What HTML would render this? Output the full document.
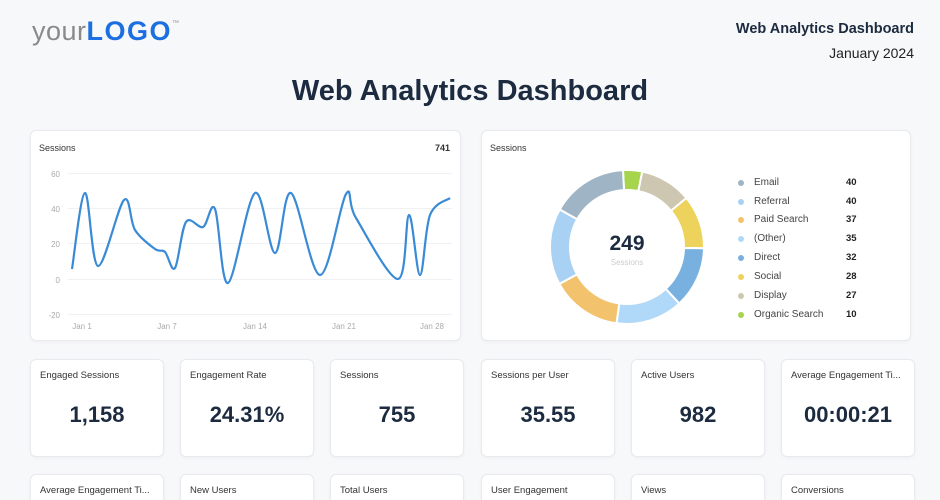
<!DOCTYPE html>
<html style="width:940px;height:500px;overflow:hidden"><head><meta charset="utf-8"><style>
*{margin:0;padding:0;box-sizing:border-box}
body{width:940px;height:500px;background:#f7f8fa;font-family:"Liberation Sans",sans-serif;position:relative;overflow:hidden;color:#1c2b3f}
.abs{position:absolute}
.card{position:absolute;background:#fff;border:1px solid #e8eaee;border-radius:6px;box-shadow:0 1px 3px rgba(0,0,0,0.04)}
.card.b{border-bottom:none;border-radius:6px 6px 0 0}
.lbl{position:absolute;left:9px;top:10px;font-size:9.5px;color:#333;white-space:nowrap}
.val{position:absolute;left:0;right:0;top:42px;text-align:center;font-size:22px;font-weight:bold;color:#1c2b3f}
.leg{position:absolute;left:738px;font-size:10px;color:#444}
.leg i{position:absolute;left:0;top:3px;width:6px;height:6px;border-radius:50%}
.leg span{position:absolute;left:16px;white-space:nowrap}
.leg b{position:absolute;left:108px;font-size:9.5px;color:#222}
</style></head><body>
<div class="abs" style="left:32px;top:16px;font-size:27px;letter-spacing:0.5px"><span style="color:#8a8a8a">your</span><span style="color:#1b6fe0;font-weight:bold;letter-spacing:1.5px">LOGO</span><sup style="font-size:7px;color:#999;vertical-align:top;position:relative;top:4px">™</sup></div>
<div class="abs" style="right:26px;top:21px;font-size:14.5px;font-weight:bold;color:#1c2b3f">Web Analytics Dashboard</div>
<div class="abs" style="right:26px;top:45px;font-size:14px;color:#222">January 2024</div>
<div class="abs" style="left:0;width:940px;top:75px;text-align:center;font-size:29px;font-weight:bold;color:#1c2b3f">Web Analytics Dashboard</div>

<div class="card" style="left:30px;top:130px;width:431px;height:211px"></div>
<div class="card" style="left:481px;top:130px;width:430px;height:211px"></div>
<svg class="abs" style="left:0;top:0" width="940" height="500" id="s">
<g font-family="Liberation Sans" font-size="9" fill="#333">
<text x="39" y="151">Sessions</text>
<text x="450" y="151" text-anchor="end" font-weight="bold">741</text>
<text x="490" y="151">Sessions</text>
</g>
<g stroke="#f0f1f3" stroke-width="1">
<line x1="68" x2="452" y1="173.5" y2="173.5"/><line x1="68" x2="452" y1="208.5" y2="208.5"/><line x1="68" x2="452" y1="243.5" y2="243.5"/><line x1="68" x2="452" y1="279.5" y2="279.5"/><line x1="68" x2="452" y1="314.5" y2="314.5"/>
</g>
<g font-family="Liberation Sans" font-size="8" fill="#aaa" text-anchor="end">
<text x="60" y="177">60</text><text x="60" y="212">40</text><text x="60" y="247">20</text><text x="60" y="283">0</text><text x="60" y="318">-20</text>
</g>
<g font-family="Liberation Sans" font-size="8" fill="#aaa" text-anchor="middle">
<text x="82" y="329">Jan 1</text><text x="167" y="329">Jan 7</text><text x="255" y="329">Jan 14</text><text x="344" y="329">Jan 21</text><text x="432" y="329">Jan 28</text>
</g>
<path id="ln" fill="none" stroke="#3a8bd6" stroke-width="2.2"/>
<g id="dn"></g>
<text x="627" y="250" text-anchor="middle" font-family="Liberation Sans" font-size="21" font-weight="bold" fill="#1c2b3f">249</text>
<text x="627" y="265" text-anchor="middle" font-family="Liberation Sans" font-size="8" fill="#ccc">Sessions</text>
</svg>
<div class="leg" style="top:177px"><i style="background:#9fb5c6"></i><span>Email</span><b>40</b></div>
<div class="leg" style="top:196px"><i style="background:#a8d1f4"></i><span>Referral</span><b>40</b></div>
<div class="leg" style="top:214px"><i style="background:#f2c26c"></i><span>Paid Search</span><b>37</b></div>
<div class="leg" style="top:233px"><i style="background:#b0d8f8"></i><span>(Other)</span><b>35</b></div>
<div class="leg" style="top:252px"><i style="background:#78b1e0"></i><span>Direct</span><b>32</b></div>
<div class="leg" style="top:271px"><i style="background:#edd25c"></i><span>Social</span><b>28</b></div>
<div class="leg" style="top:290px"><i style="background:#cdc7b2"></i><span>Display</span><b>27</b></div>
<div class="leg" style="top:309px"><i style="background:#a6d44c"></i><span>Organic Search</span><b>10</b></div>

<div class="card" style="left:30px;top:359px;width:134px;height:98px"><div class="lbl">Engaged Sessions</div><div class="val">1,158</div></div>
<div class="card" style="left:180px;top:359px;width:134px;height:98px"><div class="lbl">Engagement Rate</div><div class="val">24.31%</div></div>
<div class="card" style="left:330px;top:359px;width:134px;height:98px"><div class="lbl">Sessions</div><div class="val">755</div></div>
<div class="card" style="left:481px;top:359px;width:134px;height:98px"><div class="lbl">Sessions per User</div><div class="val">35.55</div></div>
<div class="card" style="left:631px;top:359px;width:134px;height:98px"><div class="lbl">Active Users</div><div class="val">982</div></div>
<div class="card" style="left:781px;top:359px;width:134px;height:98px"><div class="lbl">Average Engagement Ti...</div><div class="val">00:00:21</div></div>
<div class="card b" style="left:30px;top:474px;width:134px;height:26px"><div class="lbl">Average Engagement Ti...</div></div>
<div class="card b" style="left:180px;top:474px;width:134px;height:26px"><div class="lbl">New Users</div></div>
<div class="card b" style="left:330px;top:474px;width:134px;height:26px"><div class="lbl">Total Users</div></div>
<div class="card b" style="left:481px;top:474px;width:134px;height:26px"><div class="lbl">User Engagement</div></div>
<div class="card b" style="left:631px;top:474px;width:134px;height:26px"><div class="lbl">Views</div></div>
<div class="card b" style="left:781px;top:474px;width:134px;height:26px"><div class="lbl">Conversions</div></div>
<script>
var p=[[72,269],[85,193],[98,266],[124,200],[135,230],[155,249],[165,252],[175,268],[186,222],[203,227],[215,209],[228,283],[255,193],[275,253],[291,193],[320,275],[346,194],[356,218],[398,279],[409,215],[420,275],[430,215],[450,198]];
var d="M"+p[0][0]+","+p[0][1];
for(var i=0;i<p.length-1;i++){var a=p[Math.max(i-1,0)],b=p[i],c=p[i+1],e=p[Math.min(i+2,p.length-1)];
d+=" C"+(b[0]+(c[0]-a[0])/6)+","+(b[1]+(c[1]-a[1])/6)+" "+(c[0]-(e[0]-b[0])/6)+","+(c[1]-(e[1]-b[1])/6)+" "+c[0]+","+c[1];}
document.getElementById("ln").setAttribute("d",d);
var seg=[[10,"#a6d44c"],[27,"#cdc7b2"],[28,"#edd25c"],[32,"#78b1e0"],[35,"#b0d8f8"],[37,"#f2c26c"],[40,"#a8d1f4"],[40,"#9fb5c6"]];
var cx=627,cy=247,R=77,r=57,ang=-3*Math.PI/180-Math.PI/2,h="";
function pt(rr,t){return (cx+rr*Math.cos(t)).toFixed(2)+","+(cy+rr*Math.sin(t)).toFixed(2)}
seg.forEach(function(s){var a2=ang+s[0]/249*2*Math.PI,l=(a2-ang)>Math.PI?1:0;
h+='<path d="M'+pt(R,ang)+' A'+R+','+R+' 0 '+l+' 1 '+pt(R,a2)+' L'+pt(r,a2)+' A'+r+','+r+' 0 '+l+' 0 '+pt(r,ang)+' Z" fill="'+s[1]+'" stroke="#fff" stroke-width="2"/>';ang=a2;});
document.getElementById("dn").innerHTML=h;
</script>
</body></html>
